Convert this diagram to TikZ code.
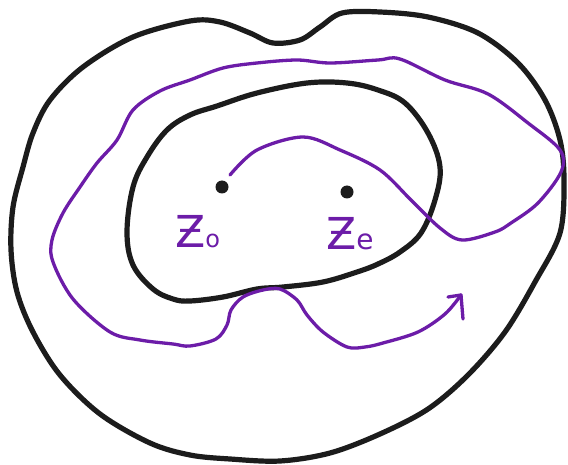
\documentclass[tikz,border=0pt]{standalone}
\usepackage{fontspec}
\newfontfamily\hand{DejaVu Sans}
\definecolor{ink}{RGB}{28,28,28}
\definecolor{violetink}{RGB}{108,28,168}
\tikzset{
  blackloop/.style={draw=ink, line width=5.2pt, line join=round, line cap=round},
  violetpath/.style={draw=violetink, line width=3.3pt, line join=round, line cap=round},
  pointdot/.style={circle, fill=ink, inner sep=0pt, minimum size=13pt},
  handlabel/.style={text=violetink, inner sep=0pt, font=\hand\fontsize{44}{44}\selectfont}
}
\begin{document}
\begin{tikzpicture}[x=1pt,y=-1pt]
\useasboundingbox[fill=white] (0,0) rectangle (568,465);

% outer loop
\draw[blackloop] plot[smooth cycle, tension=0.55] coordinates {
 (190,21) (220,22) (250,33) (273,43) (300,40) (320,27) (342,13) (380,12)
 (428,17) (478,33) (518,63) (545,100) (560,140) (564,180) (560,233)
 (535,282) (505,332) (468,375) (428,409) (380,434) (330,453) (280,461)
 (230,459) (190,455) (150,443) (100,414) (60,375) (33,332) (17,292)
 (11,250) (13,207) (23,167) (33,133) (50,100) (83,67) (133,37)};

% inner loop
\draw[blackloop] plot[smooth cycle, tension=0.6] coordinates {
 (190,115) (217,106) (257,93) (307,83) (347,83) (378,90) (405,103)
 (428,133) (440,167) (435,200) (421,233) (400,252) (378,264) (357,272)
 (323,282) (283,287) (257,289) (223,297) (190,301) (173,299) (153,289)
 (133,265) (127,232) (133,187) (147,157) (167,130)};

% purple path
\coordinate (pstart) at (230,175);
\coordinate (ptip) at (461,295);
\draw[violetpath] plot[smooth, tension=0.55] coordinates {
 (pstart) (257,150) (303,137) (340,150) (380,170) (411,200) (440,228)
 (462,240) (495,232) (511,223) (538,203) (561,172) (560,150) (528,123)
 (488,94) (445,80) (400,59) (378,60) (330,63) (297,60) (257,63) (223,68)
 (190,80) (160,91) (133,110) (117,140) (97,163) (80,187) (63,213)
 (52,240) (53,262) (73,299) (110,332) (140,340) (173,344) (190,346)
 (216,339) (227,325) (231,310) (243,297) (263,290) (280,289) (297,300)
 (307,315) (323,332) (347,347) (365,347) (383,343) (418,332) (445,314)
 (ptip)};
\draw[violetpath] (ptip) -- ++(-13,2);
\draw[violetpath] (ptip) -- ++(2,24);

% points
\node[pointdot] (z0dot) at (222,187) {};
\node[pointdot] (zedot) at (347,192) {};

% labels
\node[handlabel, anchor=base west] (z0lab) at (175,248) {Ƶ{\fontsize{24}{24}\selectfont o}};
\node[handlabel, anchor=base west] (zelab) at (326,250) {Ƶ{\fontsize{28}{28}\selectfont e}};
\end{tikzpicture}
\end{document}
